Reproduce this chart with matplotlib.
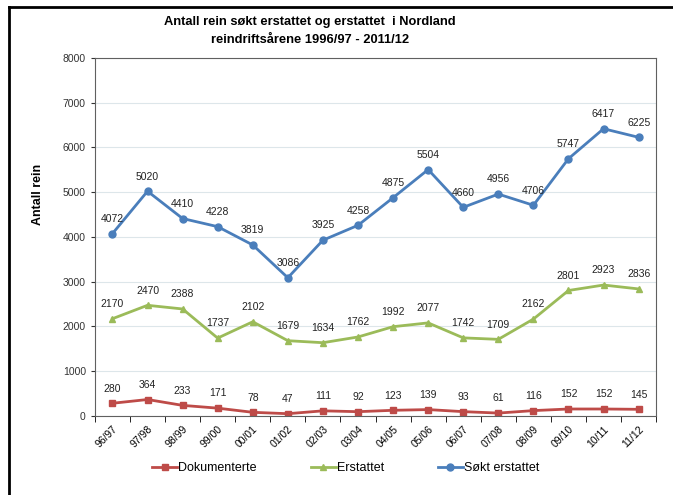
import matplotlib
matplotlib.use('Agg')
import matplotlib.pyplot as plt
import numpy as np

years = ['96/97', '97/98', '98/99', '99/00', '00/01', '01/02', '02/03', '03/04',
         '04/05', '05/06', '06/07', '07/08', '08/09', '09/10', '10/11', '11/12']
sokt = [4072, 5020, 4410, 4228, 3819, 3086, 3925, 4258, 4875, 5504, 4660, 4956,
        4706, 5747, 6417, 6225]
erstattet = [2170, 2470, 2388, 1737, 2102, 1679, 1634, 1762, 1992, 2077, 1742,
             1709, 2162, 2801, 2923, 2836]
dokumenterte = [280, 364, 233, 171, 78, 47, 111, 92, 123, 139, 93, 61, 116, 152,
                152, 145]

plt.rcParams['font.family'] = ['Liberation Sans', 'DejaVu Sans']

fig = plt.figure(figsize=(6.73, 4.95), dpi=100)
ax = fig.add_axes([0.141, 0.160, 0.834, 0.723])

x = np.arange(len(years))
l1, = ax.plot(x, dokumenterte, color='#be4b48', marker='s', markersize=5, lw=2)
l2, = ax.plot(x, erstattet, color='#9bbb59', marker='^', markersize=5, lw=2)
l3, = ax.plot(x, sokt, color='#4a7ebb', marker='o', markersize=5, lw=2)

for series in (dokumenterte, erstattet, sokt):
    for xi, v in zip(x, series):
        ax.annotate(str(v), (xi, v), xytext=(0, 7), textcoords='offset points',
                    ha='center', va='bottom', fontsize=7.5, color='#222222')

ax.set_xlim(-0.5, len(years) - 0.5)
ax.set_ylim(0, 8000)
ax.set_yticks(range(0, 8001, 1000))
ax.tick_params(axis='y', labelsize=7.5, length=3, colors='#333333')
ax.set_xticks(x)
ax.set_xticklabels(years, rotation=45, ha='right', rotation_mode='anchor', fontsize=7.5)
ax.set_xticks(np.arange(-0.5, len(years), 1), minor=True)
ax.tick_params(axis='x', which='major', length=0, pad=6)
ax.tick_params(axis='x', which='minor', length=4)
ax.grid(axis='y', color='#dde6ea', lw=0.8)
ax.set_axisbelow(True)
for s in ax.spines.values():
    s.set_color('#606060')

fig.text(0.057, 1 - 194 / 495, 'Antall rein', rotation=90, fontsize=9,
         fontweight='bold', ha='center', va='center')
fig.text(0.46, 1 - 22 / 495, 'Antall rein søkt erstattet og erstattet  i Nordland',
         fontsize=9.3, fontweight='bold', ha='center', va='center')
fig.text(0.46, 1 - 40 / 495, 'reindriftsårene 1996/97 - 2011/12',
         fontsize=9.3, fontweight='bold', ha='center', va='center')

fig.legend([l1, l2, l3], ['Dokumenterte', 'Erstattet', 'Søkt erstattet'],
           loc='center', bbox_to_anchor=(0.514, 1 - 468 / 495), ncol=3,
           frameon=False, fontsize=9, handlelength=2.0, columnspacing=4.3,
           handletextpad=0.1)

# outer frame (cut off on right and bottom)
fig.add_artist(plt.Line2D([0.013, 0.013], [0, 0.985], color='black', lw=2,
                          transform=fig.transFigure))
fig.add_artist(plt.Line2D([0.013, 1], [0.985, 0.985], color='black', lw=2,
                          transform=fig.transFigure))

fig.savefig('out.png', dpi=100)
